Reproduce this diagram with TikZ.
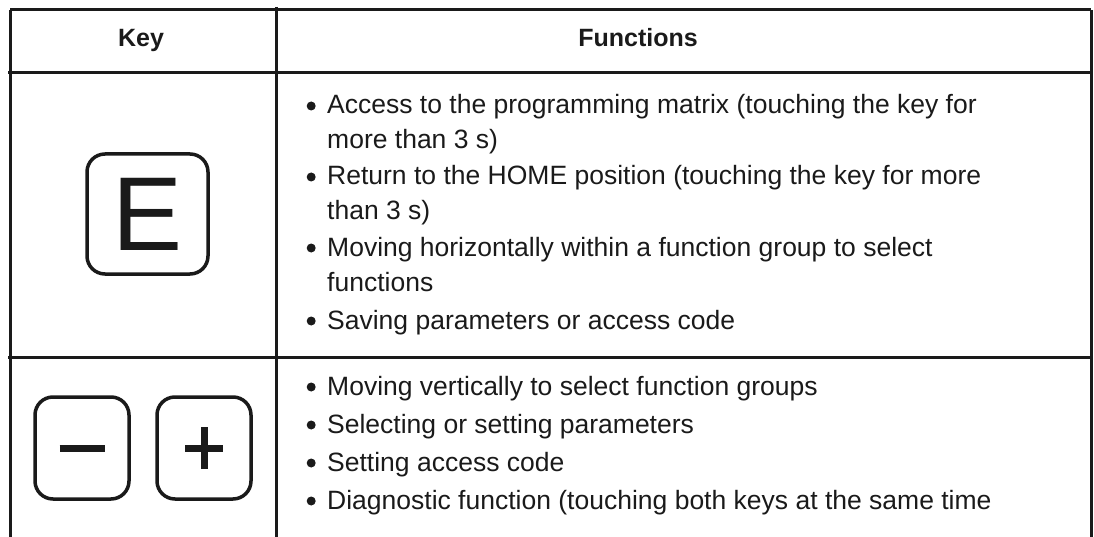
\documentclass[tikz,border=0pt]{standalone}
\usepackage{fontspec}
\setmainfont{Liberation Sans}
\usetikzlibrary{positioning}

\definecolor{ink}{HTML}{1A1A1A}
\tikzset{
  rule/.style={line width=3pt, ink},
  keycap/.style={draw=ink, line width=3.5pt, rounded corners=18pt, inner sep=0pt},
  sign/.style={line width=7pt, ink},
  head/.style={anchor=base, inner sep=0pt, font=\fontsize{25}{30}\selectfont\bfseries, text=ink},
  item/.style={anchor=base west, align=left, inner sep=0pt,
    font=\fontsize{26.5}{35}\selectfont, text=ink}
}
% bullet hanging left of the item text
\newcommand{\bul}{\makebox[0pt][r]{\tikz[baseline=-8pt]\fill[ink] (0pt,0pt) circle[radius=4.5pt];\hspace{11.5pt}}}

\begin{document}
\begin{tikzpicture}[x=1pt,y=-1pt]
\useasboundingbox (0,0) rectangle (1094,537);
% table
\draw[rule] (10,10) -- (1091,10);
\draw[rule] (8,73) -- (1091,73);
\draw[rule] (8,357) -- (1091,357);
\draw[rule] (10,10) -- (10,537);
\draw[rule] (276,7) -- (276,537);
\draw[rule] (1091,10) -- (1091,537);

\node[head] (key) at (141,47) {Key};
\node[head] (fun) at (638,47) {Functions};

% keys
\node[keycap, minimum width=121pt, minimum height=120pt,
  font=\fontsize{105}{105}\selectfont, text=ink] (ekey) at (147.5,214) {E};
\node[keycap, minimum width=94pt, minimum height=102pt] (minuskey) at (82,448) {};
\node[keycap, minimum width=94pt, minimum height=102pt] (pluskey) at (204,448) {};
\draw[sign] ([xshift=-22.5pt]minuskey.center) -- ([xshift=22.5pt]minuskey.center);
\draw[sign] ([xshift=-19pt]pluskey.center) -- ([xshift=19pt]pluskey.center);
\draw[sign] ([yshift=-21pt]pluskey.center) -- ([yshift=21pt]pluskey.center);

% functions of E (base = last line)
\node[item] (e1) at (327,149) {\bul Access to the programming matrix (touching the key for\\more than 3 s)};
\node[item] (e2) at (327,220) {\bul Return to the HOME position (touching the key for more\\than 3 s)};
\node[item] (e3) at (327,291) {\bul Moving horizontally within a function group to select\\functions};
\node[item] (e4) at (327,329) {\bul Saving parameters or access code};

% functions of - and +
\node[item] (m1) at (327,395) {\bul Moving vertically to select function groups};
\node[item] (m2) at (327,433) {\bul Selecting or setting parameters};
\node[item] (m3) at (327,471) {\bul Setting access code};
\node[item] (m4) at (327,509) {\bul Diagnostic function (touching both keys at the same time};
\end{tikzpicture}
\end{document}
